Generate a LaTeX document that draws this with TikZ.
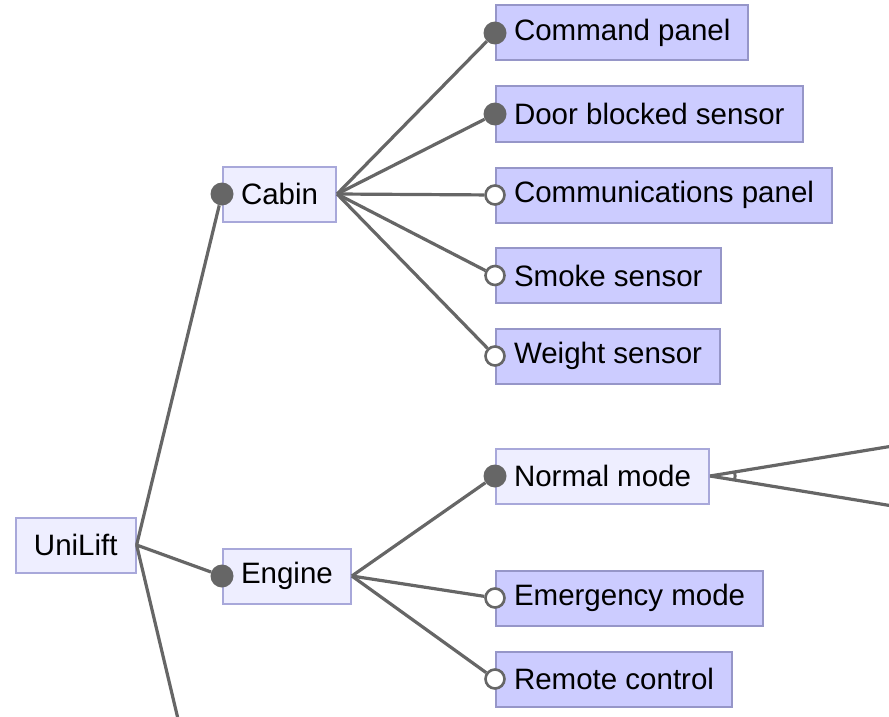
\documentclass[tikz,border=0pt]{standalone}
\usepackage{fontspec}
\setmainfont{Liberation Sans}
\usepackage{xcolor}
\usetikzlibrary{calc}

\definecolor{featfill}{RGB}{238,238,255}
\definecolor{featline}{RGB}{168,168,218}
\definecolor{leaffill}{RGB}{204,204,255}
\definecolor{leafline}{RGB}{150,150,200}
\definecolor{linkgray}{RGB}{102,102,102}

\begin{document}
\begin{tikzpicture}[x=1pt, y=-1pt,
	feat/.style={draw=featline, fill=featfill, line width=2pt, anchor=west, inner xsep=18pt, minimum height=55pt, font=\fontsize{29.5}{34}\selectfont},
	leaf/.style={feat, draw=leafline, fill=leaffill},
	link/.style={draw=linkgray, line width=3.2pt},
	must/.style={circle, fill=linkgray, inner sep=0pt, minimum size=23pt},
	may/.style={circle, draw=linkgray, fill=white, line width=2.6pt, inner sep=0pt, minimum size=19pt}]
	\clip (0,0) rectangle (889,717);

	% features
	\node (uni) [feat] at (15, 545) {UniLift};
	\node (cabin) [feat] at (222, 194) {Cabin};
	\node (engine) [feat] at (222, 576) {Engine};
	\node (cmd) [leaf] at (495, 33) {Command panel};
	\node (door) [leaf] at (495, 114) {Door blocked sensor};
	\node (comm) [leaf] at (495, 195) {Communications panel};
	\node (smoke) [leaf] at (495, 275.5) {Smoke sensor};
	\node (weight) [leaf] at (495, 356) {Weight sensor};
	\node (normal) [feat] at (495, 476) {Normal mode};
	\node (emerg) [leaf] at (495, 598) {Emergency mode};
	\node (remote) [leaf] at (495, 679) {Remote control};

	% mandatory / optional markers
	\node (cabinc) [must] at (cabin.west) {};
	\node (enginec) [must] at (engine.west) {};
	\node (cmdc) [must] at (cmd.west) {};
	\node (doorc) [must] at (door.west) {};
	\node (commc) [may] at (comm.west) {};
	\node (smokec) [may] at (smoke.west) {};
	\node (weightc) [may] at (weight.west) {};
	\node (normalc) [must] at (normal.west) {};
	\node (emergc) [may] at (emerg.west) {};
	\node (remotec) [may] at (remote.west) {};

	% cut off at the border
	\coordinate (unidown) at (183, 740);
	\coordinate (altup) at (905, 444);
	\coordinate (altdown) at (905, 508);

	\draw[link] (uni.east) -- (cabinc);
	\draw[link] (uni.east) -- (enginec);
	\draw[link] (uni.east) -- (unidown);
	\foreach \n in {cmdc, doorc, commc, smokec, weightc}
		\draw[link] (cabin.east) -- (\n);
	\foreach \n in {normalc, emergc, remotec}
		\draw[link] (engine.east) -- (\n);
	\draw[link] (normal.east) -- (altup);
	\draw[link] (normal.east) -- (altdown);
	\draw[draw=linkgray, line width=3pt] ($(normal.east)+(-9:25)$) arc[start angle=-9, end angle=9, radius=25];
\end{tikzpicture}
\end{document}
